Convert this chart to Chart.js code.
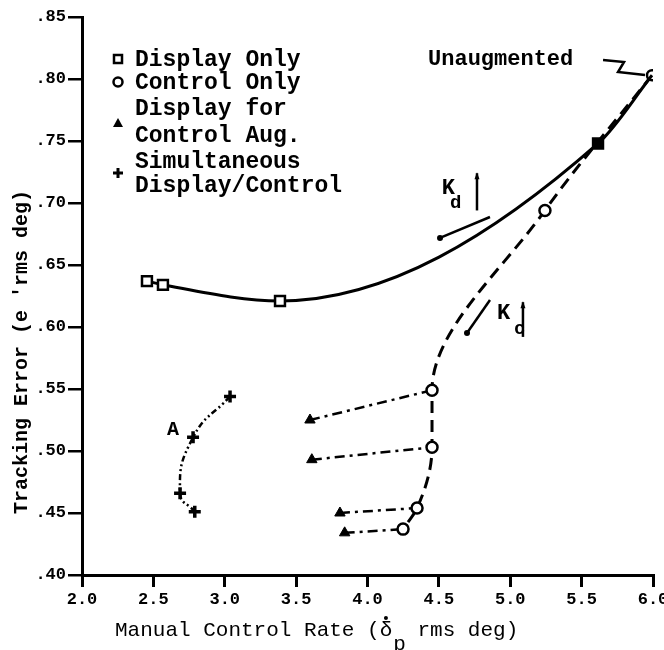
<!DOCTYPE html>
<html>
<head>
<meta charset="utf-8">
<script src="https://cdn.jsdelivr.net/npm/chart.js@4.4.1/dist/chart.umd.min.js"></script>
<style>
  html, body { margin: 0; padding: 0; background: #fff; }
</style>
</head>
<body>
<canvas id="chart" width="664" height="650"></canvas>
<script>
// ==================== DATA ====================
const xTicks = [2.0, 2.5, 3.0, 3.5, 4.0, 4.5, 5.0, 5.5, 6.0];
const yTicks = [0.40, 0.45, 0.50, 0.55, 0.60, 0.65, 0.70, 0.75, 0.80, 0.85];

// Display Only (solid line), last point is the unaugmented case
const displayX = [2.455, 2.567, 3.387, 5.615, 5.993];
const displayY = [0.637, 0.634, 0.621, 0.748, 0.803];

// Control Only (dashed), starts from the unaugmented point
const controlX = [5.993, 5.243, 4.452, 4.452, 4.347, 4.249];
const controlY = [0.803, 0.694, 0.549, 0.503, 0.454, 0.437];

// Display for Control Aug. (triangles), each joined to a control-only point
const augX = [3.597, 3.610, 3.807, 3.840];
const augY = [0.525, 0.493, 0.450, 0.434];
const augLink = [2, 3, 4, 5];

// Simultaneous Display/Control (plus marks)
const simulX = [3.037, 2.778, 2.687, 2.790];
const simulY = [0.544, 0.511, 0.466, 0.451];

const MONO = '"Liberation Mono", "DejaVu Sans Mono", monospace';
const pts = (xs, ys) => xs.map((x, i) => ({ x, y: ys[i] }));

// ==================== DATASETS ====================
const datasets = [
  {
    label: 'Display Only',
    data: pts(displayX, displayY),
    borderColor: '#000',
    borderWidth: 3,
    cubicInterpolationMode: 'monotone',
    pointStyle: ['rect', 'rect', 'rect', 'rect', 'circle'],
    pointRadius: [7, 7, 7, 7, 5],
    pointBackgroundColor: ['#fff', '#fff', '#fff', '#000', '#fff'],
    pointBorderColor: '#000',
    pointBorderWidth: 2.5,
    order: 1,
  },
  {
    // curve runs top to bottom, so interpolate along y
    label: 'Control Only',
    data: pts(controlX, controlY),
    indexAxis: 'y',
    borderColor: '#000',
    borderWidth: 3,
    borderDash: [12, 7],
    cubicInterpolationMode: 'monotone',
    pointStyle: 'circle',
    pointRadius: controlX.map((_, i) => (i === 0 ? 0 : 5.5)),
    pointBackgroundColor: '#fff',
    pointBorderColor: '#000',
    pointBorderWidth: 2.5,
    order: 0,
  },
  ...augX.map((x, i) => ({
    label: 'Display for Control Aug.',
    data: [
      { x, y: augY[i] },
      { x: controlX[augLink[i]], y: controlY[augLink[i]] },
    ],
    borderColor: '#000',
    borderWidth: 2.5,
    borderDash: [10, 5, 3, 5],
    pointStyle: 'triangle',
    pointRadius: [6, 0],
    pointBackgroundColor: '#000',
    pointBorderColor: '#000',
    pointBorderWidth: 1,
    order: 2,
  })),
  {
    label: 'Simultaneous Display/Control',
    data: pts(simulX, simulY),
    borderColor: '#000',
    borderWidth: 2.5,
    borderDash: [6, 3, 2, 3, 2, 3],
    tension: 0.5,
    pointStyle: 'cross',
    pointRadius: 6,
    pointBorderColor: '#000',
    pointBorderWidth: 3.5,
    order: 1,
  },
];

// ==================== TEXT / NOTES ====================
function arrowUp(ctx, x, y0, y1) {
  ctx.lineWidth = 2.5;
  ctx.beginPath();
  ctx.moveTo(x, y0);
  ctx.lineTo(x, y1);
  ctx.stroke();
  ctx.beginPath();
  ctx.moveTo(x - 2.5, y1 + 6);
  ctx.lineTo(x, y1 - 1);
  ctx.lineTo(x + 2.5, y1 + 6);
  ctx.closePath();
  ctx.fill();
}

function dotLine(ctx, x0, y0, x1, y1) {
  ctx.lineWidth = 2.5;
  ctx.beginPath();
  ctx.moveTo(x0, y0);
  ctx.lineTo(x1, y1);
  ctx.stroke();
  ctx.beginPath();
  ctx.arc(x0, y0, 3, 0, Math.PI * 2);
  ctx.fill();
}

const notes = {
  id: 'notes',
  afterDraw(chart) {
    const { ctx, chartArea: a, scales } = chart;
    const px = (v) => scales.x.getPixelForValue(v);
    const py = (v) => scales.y.getPixelForValue(v);
    ctx.save();
    ctx.fillStyle = '#000';
    ctx.strokeStyle = '#000';
    ctx.textBaseline = 'middle';
    ctx.textAlign = 'left';

    // legend
    const ix = a.left + 36;
    const tx = a.left + 53;
    ctx.font = 'bold 23px ' + MONO;
    [
      ['Display Only', 43],
      ['Control Only', 66],
      ['Display for', 92],
      ['Control Aug.', 119],
      ['Simultaneous', 145],
      ['Display/Control', 169],
    ].forEach(([t, dy]) => ctx.fillText(t, tx, a.top + dy));
    ctx.lineWidth = 2.5;
    ctx.fillStyle = '#fff';
    ctx.fillRect(ix - 4, a.top + 42 - 4, 8, 8);
    ctx.strokeRect(ix - 4, a.top + 42 - 4, 8, 8);
    ctx.beginPath();
    ctx.arc(ix, a.top + 65, 4.5, 0, Math.PI * 2);
    ctx.fill();
    ctx.stroke();
    ctx.fillStyle = '#000';
    ctx.beginPath();
    ctx.moveTo(ix, a.top + 101);
    ctx.lineTo(ix + 5, a.top + 110);
    ctx.lineTo(ix - 5, a.top + 110);
    ctx.closePath();
    ctx.fill();
    ctx.lineWidth = 3;
    ctx.beginPath();
    ctx.moveTo(ix - 5, a.top + 156);
    ctx.lineTo(ix + 5, a.top + 156);
    ctx.moveTo(ix, a.top + 151);
    ctx.lineTo(ix, a.top + 161);
    ctx.stroke();

    // Unaugmented + zigzag leader
    ctx.font = 'bold 22px ' + MONO;
    ctx.fillText('Unaugmented', px(4.424), py(0.816));
    ctx.lineWidth = 2.5;
    ctx.beginPath();
    ctx.moveTo(px(5.650), py(0.8153));
    ctx.lineTo(px(5.797), py(0.8137));
    ctx.lineTo(px(5.755), py(0.8056));
    ctx.lineTo(px(5.944), py(0.8032));
    ctx.stroke();

    // K_d
    dotLine(ctx, px(4.508), py(0.6718), px(4.858), py(0.6887));
    ctx.font = 'bold 22px ' + MONO;
    ctx.fillText('K', px(4.52), py(0.712));
    ctx.font = 'bold 19px ' + MONO;
    ctx.fillText('d', px(4.578), py(0.700));
    arrowUp(ctx, px(4.767), py(0.694), py(0.724));

    // K_c
    dotLine(ctx, px(4.697), py(0.5952), px(4.858), py(0.6218));
    ctx.font = 'bold 22px ' + MONO;
    ctx.fillText('K', px(4.907), py(0.611));
    ctx.font = 'bold 19px ' + MONO;
    ctx.fillText('c', px(5.026), py(0.598));
    arrowUp(ctx, px(5.089), py(0.592), py(0.620));

    // A
    ctx.font = 'bold 20px ' + MONO;
    ctx.textAlign = 'center';
    ctx.fillText('A', px(2.637), py(0.517));

    // x axis title with dotted delta and subscript p
    ctx.textAlign = 'left';
    ctx.font = '21px ' + MONO;
    const x0 = a.left + 33;
    const ty = a.bottom + 55;
    const head = 'Manual Control Rate (δ';
    ctx.fillText(head + '  rms deg)', x0, ty);
    const w = ctx.measureText(head).width;
    const wd = ctx.measureText('δ').width;
    ctx.beginPath();
    ctx.arc(x0 + w - wd / 2, ty - 12, 2, 0, Math.PI * 2);
    ctx.fill();
    ctx.fillText('p', x0 + w + 1, ty + 14);

    // y axis title
    ctx.save();
    ctx.translate(22, (a.top + a.bottom) / 2 + 56);
    ctx.rotate(-Math.PI / 2);
    ctx.textAlign = 'center';
    ctx.font = 'bold 20px ' + MONO;
    ctx.fillText("Tracking Error (e 'rms deg)", 0, 0);
    ctx.restore();

    ctx.restore();
  },
};

// ==================== CHART ====================
const tickFont = { family: MONO, weight: 'bold', size: 17 };

new Chart(document.getElementById('chart'), {
  type: 'line',
  data: { datasets },
  options: {
    responsive: false,
    animation: false,
    devicePixelRatio: 1,
    layout: { padding: { top: 17, right: 11, left: 0, bottom: 0 } },
    plugins: { legend: { display: false }, tooltip: { enabled: false } },
    scales: {
      x: {
        type: 'linear',
        min: 2,
        max: 6,
        afterBuildTicks: (s) => { s.ticks = xTicks.map((v) => ({ value: v })); },
        afterFit: (s) => { s.height = 75; s.paddingLeft = 0; s.paddingRight = 0; },
        border: { color: '#000', width: 3 },
        grid: { drawOnChartArea: false, drawTicks: true, tickLength: 12, color: '#000', lineWidth: 3 },
        ticks: { color: '#000', font: tickFont, padding: 3, maxRotation: 0, callback: (v) => v.toFixed(1) },
      },
      y: {
        type: 'linear',
        min: 0.4,
        max: 0.85,
        afterBuildTicks: (s) => { s.ticks = yTicks.map((v) => ({ value: v })); },
        afterFit: (s) => { s.width = 82; s.paddingTop = 0; s.paddingBottom = 0; },
        border: { color: '#000', width: 3 },
        grid: { drawOnChartArea: false, drawTicks: true, tickLength: 14, color: '#000', lineWidth: 2.5 },
        ticks: { color: '#000', font: tickFont, padding: 2, callback: (v) => v.toFixed(2).replace(/^0/, '') },
      },
    },
  },
  plugins: [notes],
});
</script>
</body>
</html>
